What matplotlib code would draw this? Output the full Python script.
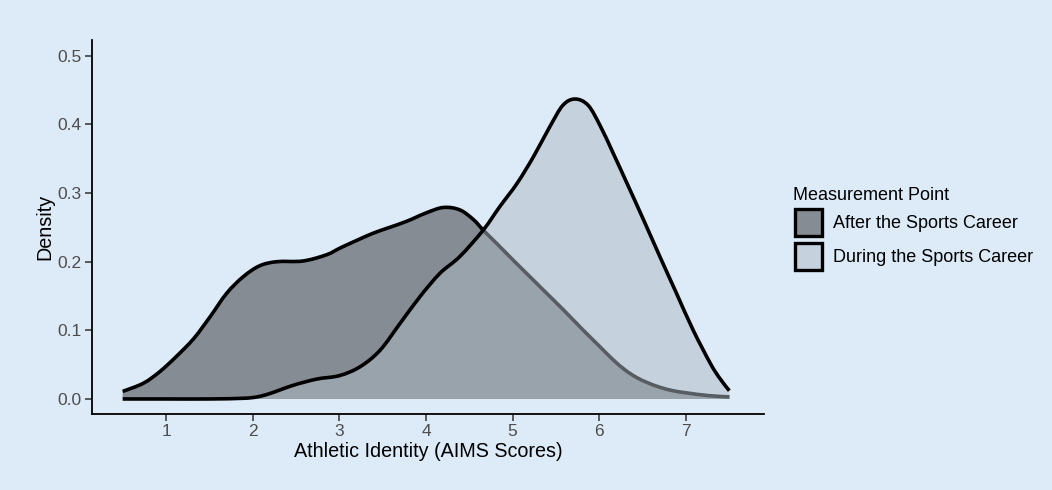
import matplotlib
matplotlib.use("Agg")
import matplotlib.pyplot as plt
from matplotlib.patches import Patch, PathPatch
from matplotlib.path import Path

plt.rcParams['font.family'] = ['Liberation Sans', 'DejaVu Sans']

# Density curve values
after_x = [0.5, 0.74, 0.93, 1.12, 1.32, 1.51, 1.70, 1.89, 2.08, 2.28, 2.58, 2.85, 3.01,
           3.2, 3.39, 3.58, 3.78, 4.0, 4.2, 4.39, 4.55, 4.66, 4.82, 5.0, 5.2, 5.4, 5.6,
           5.8, 6.0, 6.16, 6.3, 6.42, 6.55, 6.7, 6.85, 7.0, 7.25, 7.5]
after_y = [0.011, 0.023, 0.040, 0.062, 0.088, 0.120, 0.154, 0.178, 0.194, 0.200, 0.201,
           0.210, 0.220, 0.231, 0.2415, 0.250, 0.259, 0.271, 0.279, 0.2755, 0.261, 0.246,
           0.226, 0.203, 0.178, 0.153, 0.128, 0.102, 0.077, 0.057, 0.042, 0.032, 0.024,
           0.017, 0.012, 0.009, 0.005, 0.003]

during_x = [0.5, 1.0, 1.5, 1.89, 2.05, 2.2, 2.47, 2.74, 3.0, 3.24, 3.47, 3.70, 3.93,
            4.16, 4.39, 4.66, 4.85, 5.05, 5.24, 5.43, 5.58, 5.72, 5.87, 6.01, 6.16, 6.32,
            6.51, 6.70, 6.89, 7.08, 7.28, 7.39, 7.5]
during_y = [0.0, 0.0, 0.0, 0.001, 0.003, 0.008, 0.020, 0.029, 0.034, 0.047, 0.071, 0.110,
            0.149, 0.183, 0.2075, 0.246, 0.280, 0.314, 0.353, 0.397, 0.428, 0.437, 0.428,
            0.398, 0.358, 0.314, 0.261, 0.207, 0.154, 0.101, 0.052, 0.030, 0.012]

series_labels = ["After the Sports Career", "During the Sports Career"]
legend_title = "Measurement Point"
x_ticks = [1, 2, 3, 4, 5, 6, 7]
y_ticks = [0.0, 0.1, 0.2, 0.3, 0.4, 0.5]

bg = "#DDEAF7"
after_fill = "#858C93"
during_fill = "#AEBAC5"
during_key = "#C5D2DE"
during_alpha = 0.5


def smooth_path(xs, ys, close=False):
    """Cubic Bezier path through the given points (Catmull-Rom tangents)."""
    pts = list(zip(xs, ys))
    n = len(pts)
    verts = [pts[0]]
    codes = [Path.MOVETO]
    for i in range(n - 1):
        p0 = pts[max(i - 1, 0)]
        p1 = pts[i]
        p2 = pts[i + 1]
        p3 = pts[min(i + 2, n - 1)]
        c1 = (p1[0] + (p2[0] - p0[0]) / 6, p1[1] + (p2[1] - p0[1]) / 6)
        c2 = (p2[0] - (p3[0] - p1[0]) / 6, p2[1] - (p3[1] - p1[1]) / 6)
        verts += [c1, c2, p2]
        codes += [Path.CURVE4] * 3
    if close:
        verts += [(xs[-1], 0), (xs[0], 0), pts[0]]
        codes += [Path.LINETO, Path.LINETO, Path.CLOSEPOLY]
    return Path(verts, codes)


W, H = 1052, 490
fig = plt.figure(figsize=(W / 100, H / 100), dpi=100, facecolor=bg)
ax = fig.add_axes([92/W, 1 - 414/H, (764-92)/W, (414-40)/H])
ax.set_facecolor(bg)

ax.add_patch(PathPatch(smooth_path(after_x, after_y, True), facecolor=after_fill,
                       lw=0, zorder=2))
ax.add_patch(PathPatch(smooth_path(after_x, after_y), facecolor="none",
                       edgecolor="black", lw=2.6, zorder=3, capstyle="butt"))
ax.add_patch(PathPatch(smooth_path(during_x, during_y, True), facecolor=during_fill,
                       alpha=during_alpha, lw=0, zorder=4))
ax.add_patch(PathPatch(smooth_path(during_x, during_y), facecolor="none",
                       edgecolor="black", lw=2.6, zorder=5, capstyle="butt"))

ax.set_xlim(0.146, 7.9)
ax.set_ylim(-0.0219, 0.523)
ax.set_xticks(x_ticks)
ax.set_xticklabels([str(v) for v in x_ticks])
ax.set_yticks(y_ticks)
ax.set_yticklabels([f"{v:.1f}" for v in y_ticks])
for s in ["top", "right"]:
    ax.spines[s].set_visible(False)
for s in ["left", "bottom"]:
    ax.spines[s].set_linewidth(1.3)
    ax.spines[s].set_color("black")
ax.tick_params(axis="both", length=5, width=1.1, color="#333333",
               labelcolor="#4D4D4D", labelsize=12.5)
ax.tick_params(axis="y", pad=2.5)
ax.tick_params(axis="x", pad=2.5)

ax.set_xlabel("Athletic Identity (AIMS Scores)", fontsize=14.2, color="black", labelpad=2)
ax.set_ylabel("Density", fontsize=14.2, color="black", labelpad=2)

fig.text(793/W, 1 - 200/H, legend_title, fontsize=13, color="black",
         ha="left", va="baseline")
handles = [Patch(facecolor=after_fill, edgecolor="black", lw=2.4),
           Patch(facecolor=during_key, edgecolor="black", lw=2.4)]
leg = fig.legend(handles, series_labels, loc="upper left",
                 bbox_to_anchor=(795/W, 1 - 209/H), frameon=False,
                 fontsize=13, handlelength=1.5, handleheight=1.9,
                 handletextpad=0.6, labelspacing=0.42, borderaxespad=0, borderpad=0)

fig.savefig("out.png", dpi=100, facecolor=bg)
